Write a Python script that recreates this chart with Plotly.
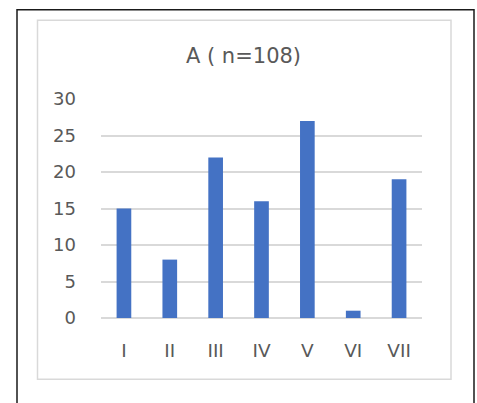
import plotly.graph_objects as go

categories = ["I", "II", "III", "IV", "V", "VI", "VII"]
values = [15, 8, 22, 16, 27, 1, 19]
title_text = "A ( n=108)"
y_ticks = [0, 5, 10, 15, 20, 25, 30]

W, H = 477, 403
L, R, T, B = 101, 422, 99, 318.5
pw, ph = R - L, B - T

def px(x):
    return (x - L) / pw

def py(y):
    return (B - y) / ph

FONT = "DejaVu Sans"
GREY = "#595959"

fig = go.Figure(go.Bar(x=categories, y=values, marker_color="#4472C4",
                       marker_line_width=0))

fig.update_layout(
    width=W, height=H,
    margin=dict(l=L, r=W - R, t=T, b=H - B, pad=0),
    paper_bgcolor="white", plot_bgcolor="white",
    bargap=0.68,
    showlegend=False,
    font=dict(family=FONT, color=GREY, size=18),
    title=dict(text=title_text, x=px(243.5), xanchor="center", xref="paper",
               y=1 - 55.5 / H, yanchor="middle",
               font=dict(family=FONT, size=21, color=GREY)),
    shapes=[
        dict(type="rect", xref="paper", yref="paper",
             x0=px(17), x1=px(474), y0=py(430), y1=py(9.5),
             line=dict(color="#1a1a1a", width=1.5), layer="below"),
        dict(type="rect", xref="paper", yref="paper",
             x0=px(37.5), x1=px(451), y0=py(380), y1=py(20),
             line=dict(color="#d9d9d9", width=1.5), layer="below"),
    ],
)
fig.update_xaxes(showgrid=False, showline=False, ticks="", ticklabelstandoff=19,
                 tickfont=dict(size=18.5, color=GREY))
fig.update_yaxes(range=[0, 30], tickvals=y_ticks, showgrid=True, gridcolor="#d9d9d9",
                 gridwidth=1.5, zeroline=True, zerolinecolor="#d9d9d9", zerolinewidth=1.5,
                 showline=False, ticks="", ticklabelstandoff=24,
                 tickfont=dict(size=18, color=GREY))

fig.write_html("out.html", config={"displayModeBar": False},
               post_script="document.body.style.margin='0';document.body.style.overflow='hidden';")
